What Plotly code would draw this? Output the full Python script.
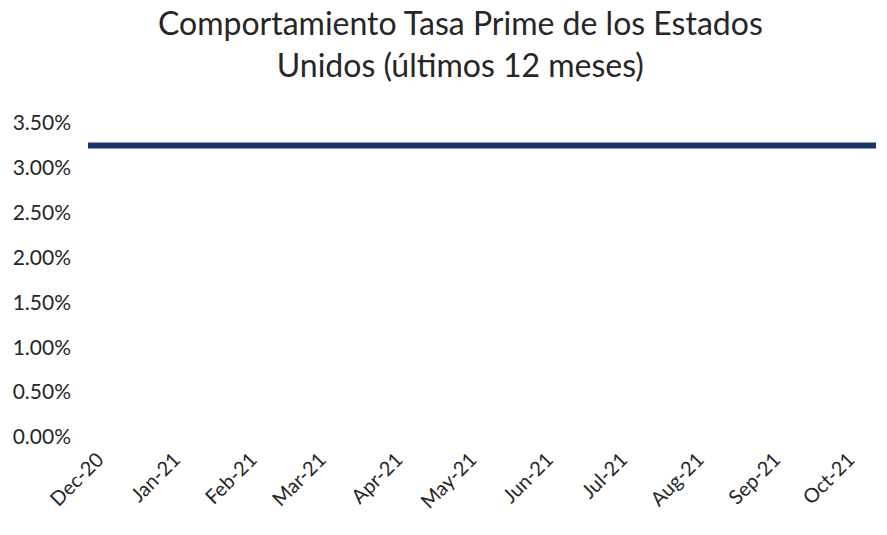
import plotly.graph_objects as go

dates = ["2020-11-27", "2021-10-12"]
rates = [0.0325, 0.0325]
tick_dates = ["2020-12-01", "2021-01-01", "2021-02-01", "2021-03-01", "2021-04-01",
              "2021-05-01", "2021-06-01", "2021-07-01", "2021-08-01", "2021-09-01",
              "2021-10-01"]
tick_labels = ["Dec-20", "Jan-21", "Feb-21", "Mar-21", "Apr-21", "May-21",
               "Jun-21", "Jul-21", "Aug-21", "Sep-21", "Oct-21"]
y_ticks = [0, 0.005, 0.01, 0.015, 0.02, 0.025, 0.03, 0.035]

fig = go.Figure()
fig.add_trace(go.Scatter(x=dates, y=rates, mode="lines",
                         line=dict(color="#1a3668", width=6), showlegend=False))

fig.update_layout(
    width=887, height=535,
    paper_bgcolor="white", plot_bgcolor="white",
    margin=dict(l=88, r=11, t=123, b=98),
    font=dict(family="Lato", color="#262626"),
    title=dict(text="Comportamiento Tasa Prime de los Estados<br>Unidos (últimos 12 meses)",
               x=0.519, xanchor="center", yref="container", y=0.934, yanchor="top",
               font=dict(size=32, family="Lato", color="#262626")),
)
fig.update_xaxes(range=[dates[0], dates[-1]], tickvals=tick_dates, ticktext=tick_labels,
                 tickangle=-45, showgrid=False, zeroline=False, showline=False,
                 tickfont=dict(size=20), ticks="", automargin=False, ticklabelstandoff=6)
fig.update_yaxes(range=[0, 0.035], tickvals=y_ticks, tickformat=".2%",
                 showgrid=False, zeroline=False, showline=False,
                 tickfont=dict(size=21), ticklabelstandoff=16, automargin=False)

fig.write_html("out.html", config={"displayModeBar": False},
               post_script="document.body.style.margin='0';")
